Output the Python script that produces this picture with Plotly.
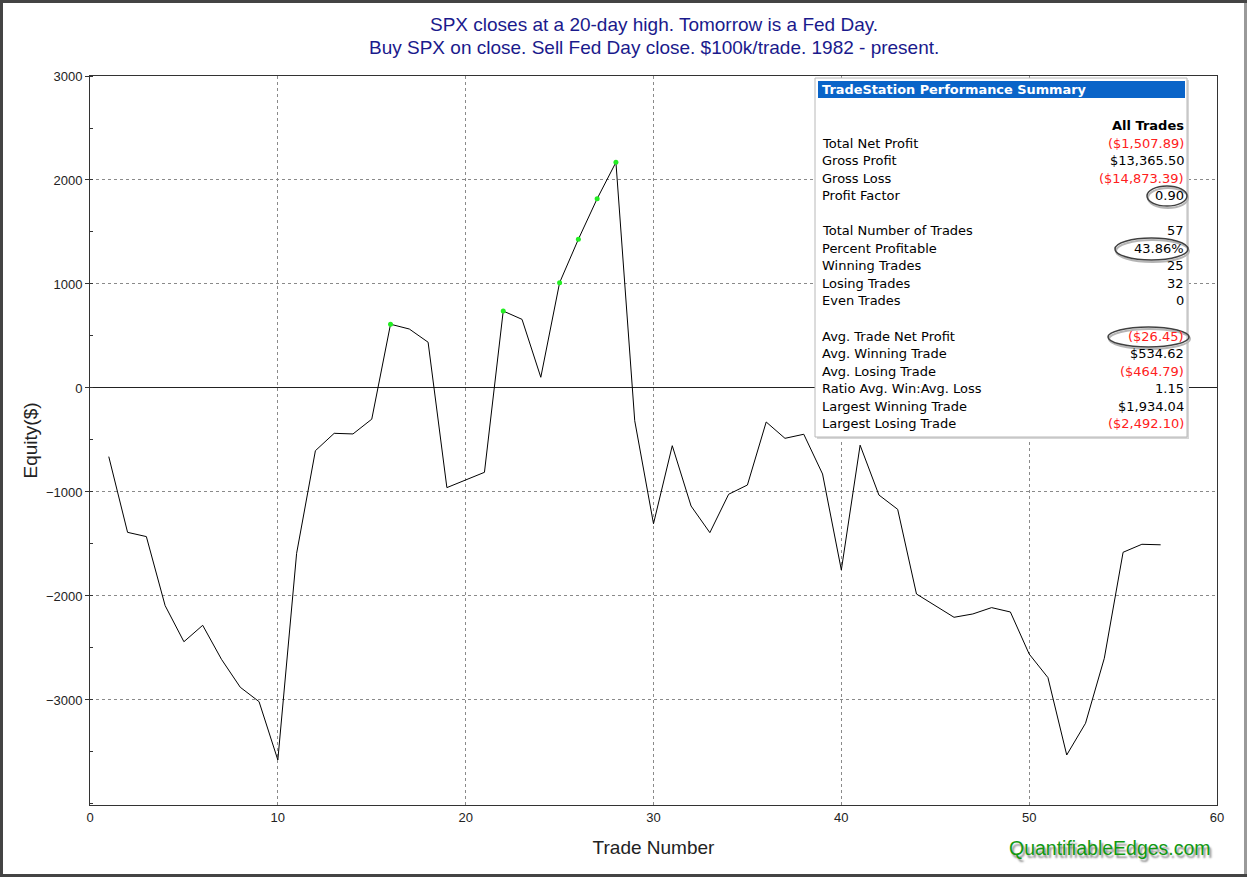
import plotly.graph_objects as go

# ---------------- data ----------------
trade_number = list(range(1, 58))
equity = [-660, -1388, -1429, -2093, -2440, -2282, -2609, -2878, -3016, -3577,
          -1590, -603, -436, -442, -300, 613, 567, 440, -958, -885,
          -811, 740, 660, 103, 1012, 1430, 1820, 2170, -315, -1305,
          -555, -1135, -1391, -1022, -933, -327, -484, -445, -827, -1750,
          -550, -1029, -1167, -1981, -2093, -2205, -2173, -2112, -2154, -2558,
          -2785, -3529, -3224, -2599, -1580, -1503, -1508]
new_high_idx = [15, 21, 24, 25, 26, 27]  # trades at new equity highs (16,22,25,26,27,28)

x_ticks = [0, 10, 20, 30, 40, 50, 60]
y_ticks = [-3000, -2000, -1000, 0, 1000, 2000, 3000]

title_lines = ["SPX closes at a 20-day high. Tomorrow is a Fed Day.",
               "Buy SPX on close. Sell Fed Day close. $100k/trade. 1982 - present."]

table_labels = ["Total Net Profit", "Gross Profit", "Gross Loss", "Profit Factor", None,
                "Total Number of Trades", "Percent Profitable", "Winning Trades", "Losing Trades",
                "Even Trades", None, "Avg. Trade Net Profit", "Avg. Winning Trade",
                "Avg. Losing Trade", "Ratio Avg. Win:Avg. Loss", "Largest Winning Trade",
                "Largest Losing Trade"]
table_values = ["($1,507.89)", "$13,365.50", "($14,873.39)", "0.90", None,
                "57", "43.86%", "25", "32", "0", None,
                "($26.45)", "$534.62", "($464.79)", "1.15", "$1,934.04", "($2,492.10)"]

# ---------------- layout helpers ----------------
W, H = 1247, 877
L, R, T, B = 90, 1217, 76, 805
pw, ph = R - L, B - T


def px(x):
    return (x - L) / pw


def py(y):
    return (B - y) / ph


fig = go.Figure()
fig.add_trace(go.Scatter(x=trade_number, y=equity, mode="lines",
                         line=dict(color="black", width=1), hoverinfo="x+y"))
fig.add_trace(go.Scatter(x=[trade_number[i] for i in new_high_idx],
                         y=[equity[i] for i in new_high_idx], mode="markers",
                         marker=dict(color="#22ee22", size=5)))

shapes = []
annotations = []

# outer frame
shapes.append(dict(type="rect", xref="paper", yref="paper",
                   x0=px(1.5), x1=px(W - 1.5), y0=py(H - 1.5), y1=py(1.5),
                   line=dict(color="#444444", width=3), layer="above"))
shapes.append(dict(type="line", xref="paper", yref="paper",
                   x0=px(W - 1.5), x1=px(W - 1.5), y0=py(H - 3), y1=py(3),
                   line=dict(color="#9a9a9a", width=3), layer="above"))

# title
for i, t in enumerate(title_lines):
    annotations.append(dict(xref="paper", yref="paper", x=px(654), y=py(24 + 23.5 * i),
                            text=t, showarrow=False, xanchor="center", yanchor="middle",
                            font=dict(family="Liberation Sans, Arial", size=19, color="#1a1a8c")))

# performance table
shapes.append(dict(type="rect", xref="paper", yref="paper", x0=px(817), x1=px(1189),
                   y0=py(439), y1=py(80), fillcolor="#d6d6d6", line=dict(width=0), layer="above"))
shapes.append(dict(type="rect", xref="paper", yref="paper", x0=px(815), x1=px(1187),
                   y0=py(437), y1=py(78), fillcolor="white",
                   line=dict(color="#b8b8b8", width=1), layer="above"))
shapes.append(dict(type="rect", xref="paper", yref="paper", x0=px(818), x1=px(1185),
                   y0=py(98), y1=py(81), fillcolor="#0a64c8", line=dict(width=0), layer="above"))
annotations.append(dict(xref="paper", yref="paper", x=px(820), y=py(90),
                        text="<b>TradeStation Performance Summary</b>", showarrow=False,
                        xanchor="left", yanchor="middle",
                        font=dict(family="DejaVu Sans", size=12.9, color="white")))
annotations.append(dict(xref="paper", yref="paper", x=px(1186), y=py(125),
                        text="<b>All Trades</b>", showarrow=False,
                        xanchor="right", yanchor="middle",
                        font=dict(family="DejaVu Sans", size=13, color="black")))
tfont = "DejaVu Sans"
for i, (lab, val) in enumerate(zip(table_labels, table_values)):
    if lab is None:
        continue
    yy = 143 + i * 17.55
    annotations.append(dict(xref="paper", yref="paper", x=px(820), y=py(yy), text=lab,
                            showarrow=False, xanchor="left", yanchor="middle",
                            font=dict(family=tfont, size=13, color="black")))
    col = "#ff2020" if val.startswith("(") else "black"
    annotations.append(dict(xref="paper", yref="paper", x=px(1186), y=py(yy), text=val,
                            showarrow=False, xanchor="right", yanchor="middle",
                            font=dict(family=tfont, size=13, color=col)))

# ellipses around key stats
for (x0, x1, y0, y1) in [(1147, 1187, 186, 206), (1115, 1188, 238, 260), (1108, 1189, 327, 347)]:
    shapes.append(dict(type="circle", xref="paper", yref="paper", x0=px(x0 + 1), x1=px(x1 + 1),
                       y0=py(y1 + 2), y1=py(y0 + 2), line=dict(color="#b5b5b5", width=2),
                       layer="above"))
    shapes.append(dict(type="circle", xref="paper", yref="paper", x0=px(x0), x1=px(x1),
                       y0=py(y1), y1=py(y0), line=dict(color="#404040", width=1.5),
                       layer="above"))

# watermark
annotations.append(dict(xref="paper", yref="paper", x=px(1110), y=py(848),
                        xanchor="center", yanchor="middle",
                        text="QuantifiableEdges.com", showarrow=False,
                        font=dict(family="Liberation Sans, Arial", size=19.5, color="#119911",
                                  shadow="2px 3px 2px #8a8a8a")))

fig.update_layout(
    width=W, height=H,
    margin=dict(l=L, r=W - R, t=T, b=H - B),
    paper_bgcolor="white", plot_bgcolor="white",
    showlegend=False,
    shapes=shapes, annotations=annotations,
    font=dict(family="Liberation Sans, Arial", size=13, color="#222"),
    xaxis=dict(range=[0, 60], tickvals=x_ticks, showgrid=True, gridcolor="#8a8a8a",
               griddash="dot", gridwidth=1, zeroline=False, showline=True,
               linecolor="#333", linewidth=1, mirror=True, ticks="", ticklen=3,
               tickfont=dict(size=13, color="#222"),
               title=dict(text="Trade Number", font=dict(size=19, color="#222"), standoff=17)),
    yaxis=dict(range=[-4010, 3000], tickvals=y_ticks, showgrid=True, gridcolor="#8a8a8a",
               griddash="dot", gridwidth=1, zeroline=True, zerolinecolor="#222",
               zerolinewidth=1, showline=True, linecolor="#333", linewidth=1, mirror=True,
               ticks="outside", ticklen=4, tickcolor="#333",
               minor=dict(dtick=500, tick0=0, ticks="inside", ticklen=3, tickcolor="#333",
                          showgrid=False),
               tickfont=dict(size=13, color="#222"),
               title=dict(text="Equity($)", font=dict(size=19, color="#222"), standoff=3)),
)

fig.write_html("out.html", config={"displayModeBar": False},
               post_script="document.body.style.margin='0px';")
